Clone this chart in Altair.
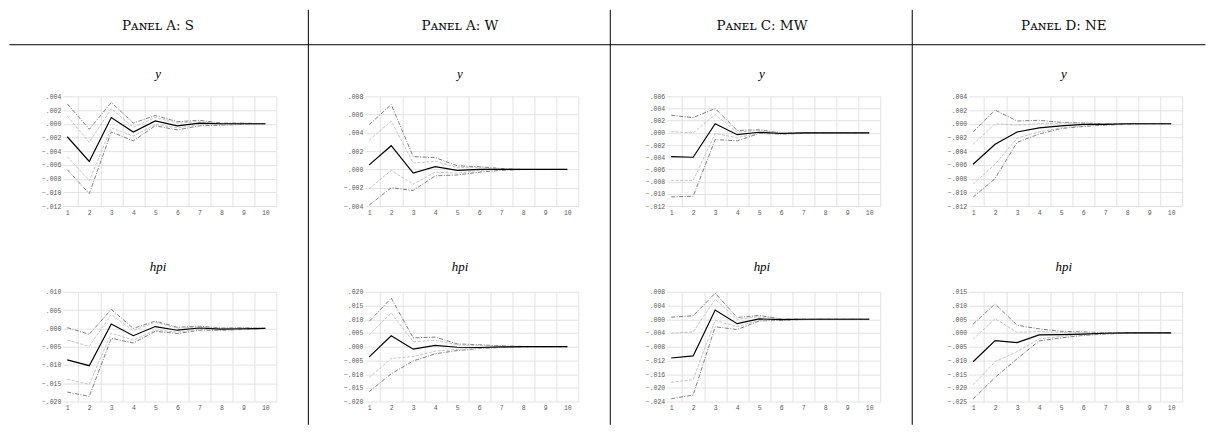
import altair as alt
import pandas as pd

H = list(range(1, 11))

# ---- Panel A: S ----
S_Y = dict(
    mid=[-0.0019, -0.0055, 0.0009, -0.0012, 0.0004, -0.0003, 0.0001, 0.0000, 0.0000, 0.0000],
    ohi=[0.0029, -0.0008, 0.0031, 0.0001, 0.0012, 0.0003, 0.0005, 0.0001, 0.0001, 0.0000],
    olo=[-0.0067, -0.0102, -0.0012, -0.0025, -0.0003, -0.0009, -0.0003, -0.0002, -0.0001, 0.0000],
    ihi=[0.0011, -0.0027, 0.0022, -0.0005, 0.0009, 0.0001, 0.0003, 0.0000, 0.0000, 0.0000],
    ilo=[-0.0048, -0.0083, -0.0006, -0.0018, -0.0001, -0.0006, -0.0001, -0.0001, -0.0001, 0.0000],
)
S_HPI = dict(
    mid=[-0.0086, -0.0102, 0.0012, -0.0020, 0.0005, -0.0005, 0.0001, -0.0002, -0.0001, 0.0000],
    ohi=[0.0002, -0.0016, 0.0052, 0.0000, 0.0020, 0.0003, 0.0006, 0.0001, 0.0002, 0.0000],
    olo=[-0.0174, -0.0186, -0.0027, -0.0040, -0.0008, -0.0014, -0.0005, -0.0005, -0.0003, 0.0000],
    ihi=[-0.0032, -0.0049, 0.0038, -0.0006, 0.0017, 0.0001, 0.0004, 0.0000, 0.0001, 0.0000],
    ilo=[-0.0139, -0.0153, -0.0013, -0.0032, -0.0005, -0.0010, -0.0003, -0.0004, -0.0002, 0.0000],
)
# ---- Panel A: W ----
W_Y = dict(
    mid=[0.0005, 0.0026, -0.0004, 0.0003, -0.0001, 0.0000, 0.0000, 0.0000, 0.0000, 0.0000],
    ohi=[0.0049, 0.0071, 0.0014, 0.0013, 0.0004, 0.0003, 0.0001, 0.0000, 0.0000, 0.0000],
    olo=[-0.0039, -0.0020, -0.0023, -0.0007, -0.0006, -0.0003, -0.0001, 0.0000, 0.0000, 0.0000],
    ihi=[0.0032, 0.0053, 0.0007, 0.0009, 0.0002, 0.0002, 0.0000, 0.0000, 0.0000, 0.0000],
    ilo=[-0.0021, -0.0001, -0.0016, -0.0003, -0.0004, -0.0001, 0.0000, 0.0000, 0.0000, 0.0000],
)
W_HPI = dict(
    mid=[-0.0037, 0.0040, -0.0009, 0.0005, -0.0002, -0.0003, -0.0001, 0.0000, 0.0000, 0.0000],
    ohi=[0.0092, 0.0177, 0.0032, 0.0035, 0.0010, 0.0007, 0.0003, 0.0001, 0.0000, 0.0000],
    olo=[-0.0164, -0.0099, -0.0052, -0.0026, -0.0014, -0.0007, -0.0003, -0.0001, 0.0000, 0.0000],
    ihi=[0.0043, 0.0123, 0.0018, 0.0023, 0.0007, 0.0004, 0.0002, 0.0000, 0.0000, 0.0000],
    ilo=[-0.0112, -0.0043, -0.0036, -0.0016, -0.0010, -0.0005, -0.0002, -0.0001, 0.0000, 0.0000],
)
# ---- Panel C: MW ----
MW_Y = dict(
    mid=[-0.0039, -0.0040, 0.0015, -0.0003, 0.0001, -0.0001, 0.0000, 0.0000, 0.0000, 0.0000],
    ohi=[0.0029, 0.0025, 0.0040, 0.0004, 0.0005, 0.0000, 0.0000, 0.0000, 0.0000, 0.0000],
    olo=[-0.0105, -0.0104, -0.0011, -0.0013, -0.0001, -0.0002, -0.0001, 0.0000, 0.0000, 0.0000],
    ihi=[0.0002, 0.0000, 0.0030, 0.0001, 0.0004, 0.0000, 0.0000, 0.0000, 0.0000, 0.0000],
    ilo=[-0.0078, -0.0078, -0.0001, -0.0008, 0.0000, -0.0001, 0.0000, 0.0000, 0.0000, 0.0000],
)
MW_HPI = dict(
    mid=[-0.0113, -0.0107, 0.0027, -0.0013, 0.0001, -0.0001, 0.0000, 0.0000, 0.0000, 0.0000],
    ohi=[0.0006, 0.0010, 0.0076, 0.0005, 0.0011, 0.0001, 0.0000, 0.0000, 0.0000, 0.0000],
    olo=[-0.0232, -0.0221, -0.0022, -0.0030, -0.0005, -0.0003, -0.0001, 0.0000, 0.0000, 0.0000],
    ihi=[-0.0041, -0.0037, 0.0058, 0.0000, 0.0007, 0.0001, 0.0000, 0.0000, 0.0000, 0.0000],
    ilo=[-0.0184, -0.0176, -0.0003, -0.0022, -0.0003, -0.0002, 0.0000, 0.0000, 0.0000, 0.0000],
)
# ---- Panel D: NE ----
NE_Y = dict(
    mid=[-0.0059, -0.0030, -0.0012, -0.0006, -0.0003, -0.0001, -0.0001, 0.0000, 0.0000, 0.0000],
    ohi=[-0.0012, 0.0020, 0.0004, 0.0005, 0.0002, 0.0001, 0.0000, 0.0000, 0.0000, 0.0000],
    olo=[-0.0107, -0.0080, -0.0027, -0.0015, -0.0007, -0.0004, -0.0002, -0.0001, 0.0000, 0.0000],
    ihi=[-0.0030, 0.0000, -0.0002, 0.0000, 0.0001, 0.0001, 0.0000, 0.0000, 0.0000, 0.0000],
    ilo=[-0.0088, -0.0059, -0.0021, -0.0012, -0.0006, -0.0003, -0.0001, 0.0000, 0.0000, 0.0000],
)
NE_HPI = dict(
    mid=[-0.0105, -0.0028, -0.0035, -0.0007, -0.0006, -0.0004, -0.0001, 0.0000, 0.0000, 0.0000],
    ohi=[0.0032, 0.0106, 0.0028, 0.0015, 0.0006, 0.0004, 0.0001, 0.0000, 0.0000, 0.0000],
    olo=[-0.0241, -0.0162, -0.0094, -0.0029, -0.0018, -0.0009, -0.0004, -0.0001, 0.0000, 0.0000],
    ihi=[-0.0023, 0.0052, 0.0002, 0.0005, 0.0002, 0.0000, 0.0000, 0.0000, 0.0000, 0.0000],
    ilo=[-0.0189, -0.0105, -0.0068, -0.0022, -0.0012, -0.0006, -0.0002, 0.0000, 0.0000, 0.0000],
)

HEADERS = ["Pᴀɴᴇʟ A: S", "Pᴀɴᴇʟ A: W", "Pᴀɴᴇʟ C: MW", "Pᴀɴᴇʟ D: NE"]
ROW_TITLES = ["y", "hpi"]
# y-axis tick ranges (min, max, step)
Y_TICKS = [
    [(-0.012, 0.004, 0.002), (-0.020, 0.010, 0.005)],
    [(-0.004, 0.008, 0.002), (-0.020, 0.020, 0.005)],
    [(-0.012, 0.006, 0.002), (-0.024, 0.008, 0.004)],
    [(-0.012, 0.004, 0.002), (-0.025, 0.015, 0.005)],
]
PANELS = [[S_Y, S_HPI], [W_Y, W_HPI], [MW_Y, MW_HPI], [NE_Y, NE_HPI]]
X_GRID = [1.5, 2.5, 3.5, 4.5, 5.5, 6.5, 7.5, 8.5, 9.5, 10.5]

W, HGT = 214, 110
MONO = "Liberation Mono"
SERIF = "Liberation Serif, DejaVu Serif"
HEAD_FONT = "DejaVu Serif"
CX = W / 2 - 11.6  # horizontal centre of a column, relative to its plot


def to_long(d):
    rows = []
    for s, vals in d.items():
        for h, v in zip(H, vals):
            rows.append({"h": h, "s": s, "v": v})
    return pd.DataFrame(rows)


def ticks(lo, hi, step):
    n = int(round((hi - lo) / step))
    return [round(lo + i * step, 4) for i in range(n + 1)]


def panel(col, row):
    d = PANELS[col][row]
    lo, hi, step = Y_TICKS[col][row]
    df = to_long(d)
    base = alt.Chart(df)
    x = alt.X("h:Q", scale=alt.Scale(domain=[0.8, 10.5], nice=False, zero=False),
              axis=alt.Axis(values=X_GRID, labelExpr="format(datum.value - 0.5, 'd')",
                            labelOffset=-11, title=None, ticks=False, domain=False,
                            labelFlush=False, labelOverlap=False, labelPadding=3))
    y = alt.Y("v:Q", scale=alt.Scale(domain=[lo, hi], nice=False, zero=False),
              axis=alt.Axis(values=ticks(lo, hi, step),
                            labelExpr="replace(format(datum.value, '.3f'), '0.', '.')",
                            title=None, ticks=False, domain=False, labelFlush=False,
                            labelOverlap=False, labelPadding=2))
    outer = base.transform_filter("datum.s == 'olo' || datum.s == 'ohi'").mark_line(
        color="#707070", strokeDash=[4, 1.5, 1, 1.5], strokeWidth=0.9
    ).encode(x=x, y=y, detail="s:N")
    inner = base.transform_filter("datum.s == 'ilo' || datum.s == 'ihi'").mark_line(
        color="#bdbdbd", strokeDash=[3, 1.5], strokeWidth=0.9
    ).encode(x=x, y=y, detail="s:N")
    mid = base.transform_filter("datum.s == 'mid'").mark_line(
        color="black", strokeWidth=1.2
    ).encode(x=x, y=y)
    layers = [outer, inner, mid]
    one = alt.Chart(pd.DataFrame({"k": [0]}))
    if row == 0:
        layers.append(one.mark_text(font=HEAD_FONT, fontSize=13.5, color="#111111",
                                    align="center", baseline="alphabetic").encode(
            x=alt.value(CX), y=alt.value(-66.2), text=alt.value(HEADERS[col])))
        layers.append(one.mark_text(font=SERIF, fontSize=13, fontStyle="italic",
                                    color="black", align="center",
                                    baseline="alphabetic").encode(
            x=alt.value(CX), y=alt.value(-18.5), text=alt.value(ROW_TITLES[0])))
        if col == 0:
            layers.append(one.mark_rule(color="black", strokeWidth=1).encode(
                x=alt.value(-53.6), x2=alt.value(1145.4), y=alt.value(-51.7)))
        else:
            layers.append(one.mark_rule(color="black", strokeWidth=1).encode(
                x=alt.value(-56.6), y=alt.value(-86.7), y2=alt.value(329.3)))
    else:
        layers.append(one.mark_text(font=SERIF, fontSize=13, fontStyle="italic",
                                    color="black", align="center",
                                    baseline="alphabetic").encode(
            x=alt.value(CX), y=alt.value(-20.5), text=alt.value(ROW_TITLES[1])))
    return alt.layer(*layers).properties(width=W, height=HGT)


panels = [panel(c, r) for r in range(2) for c in range(4)]
chart = alt.concat(*panels, columns=4, spacing=alt.RowColnumber(row=86, column=88.7),
                   bounds="flush").properties(padding=0).configure_view(
    stroke="transparent"
).configure_axis(
    gridColor="#e2e2e2", gridWidth=1, labelFont=MONO, labelFontSize=6.5, labelColor="#5a5a5a"
)

chart.save("out.html", embed_options={"renderer": "svg", "actions": False})
